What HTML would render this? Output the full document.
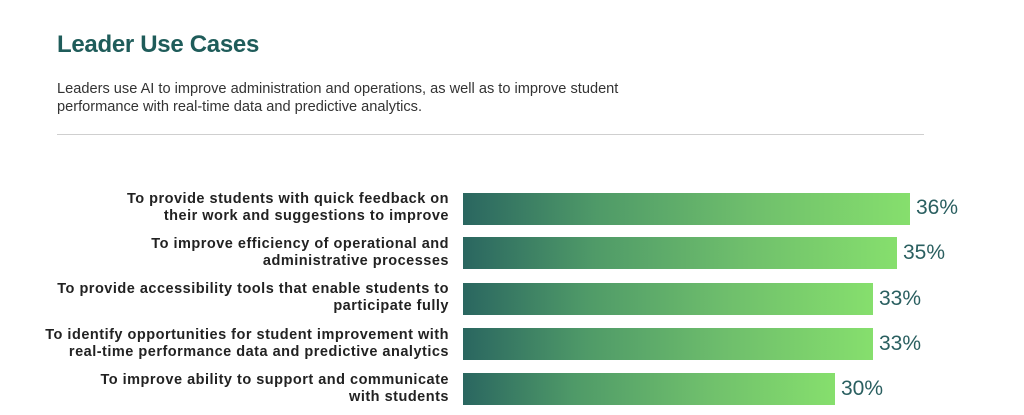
<!DOCTYPE html>
<html><head><style>
body{margin:0;width:1024px;height:415px;background:#fff;font-family:"Liberation Sans",sans-serif;position:relative;overflow:hidden}
.t{position:absolute;left:57px;top:31px;font-size:24px;font-weight:bold;color:#1f5c5a;letter-spacing:-0.3px}
.s{position:absolute;left:57px;top:80px;font-size:14.6px;line-height:18px;color:#333}
.hr{position:absolute;left:57px;top:134px;width:867px;height:1px;background:#cfcfcf}
.l{position:absolute;right:575px;width:460px;text-align:right;font-size:14.5px;letter-spacing:0.5px;font-weight:bold;line-height:17px;color:#222}
.b{position:absolute;left:463px;height:32px;background:linear-gradient(to right,#2a6660,#4f9a68 30%,#6fbf6c 65%,#86df6d)}
.v{position:absolute;font-size:21px;color:#2a5f60}
</style></head><body>
<div class="t">Leader Use Cases</div>
<div class="s">Leaders use AI to improve administration and operations, as well as to improve student<br>performance with real-time data and predictive analytics.</div>
<div class="hr"></div>

<div class="l" style="top:191px">To provide students with quick feedback on<br>their work and suggestions to improve</div>
<div class="b" style="top:193px;width:447px"></div><div class="v" style="left:916px;top:196px">36%</div>

<div class="l" style="top:236px">To improve efficiency of operational and<br>administrative processes</div>
<div class="b" style="top:237px;width:434px"></div><div class="v" style="left:903px;top:241px">35%</div>

<div class="l" style="top:281px">To provide accessibility tools that enable students to<br>participate fully</div>
<div class="b" style="top:283px;width:410px"></div><div class="v" style="left:879px;top:287px">33%</div>

<div class="l" style="top:327px">To identify opportunities for student improvement with<br>real-time performance data and predictive analytics</div>
<div class="b" style="top:328px;width:410px"></div><div class="v" style="left:879px;top:332px">33%</div>

<div class="l" style="top:372px">To improve ability to support and communicate<br>with students</div>
<div class="b" style="top:373px;width:372px"></div><div class="v" style="left:841px;top:377px">30%</div>
</body></html>
